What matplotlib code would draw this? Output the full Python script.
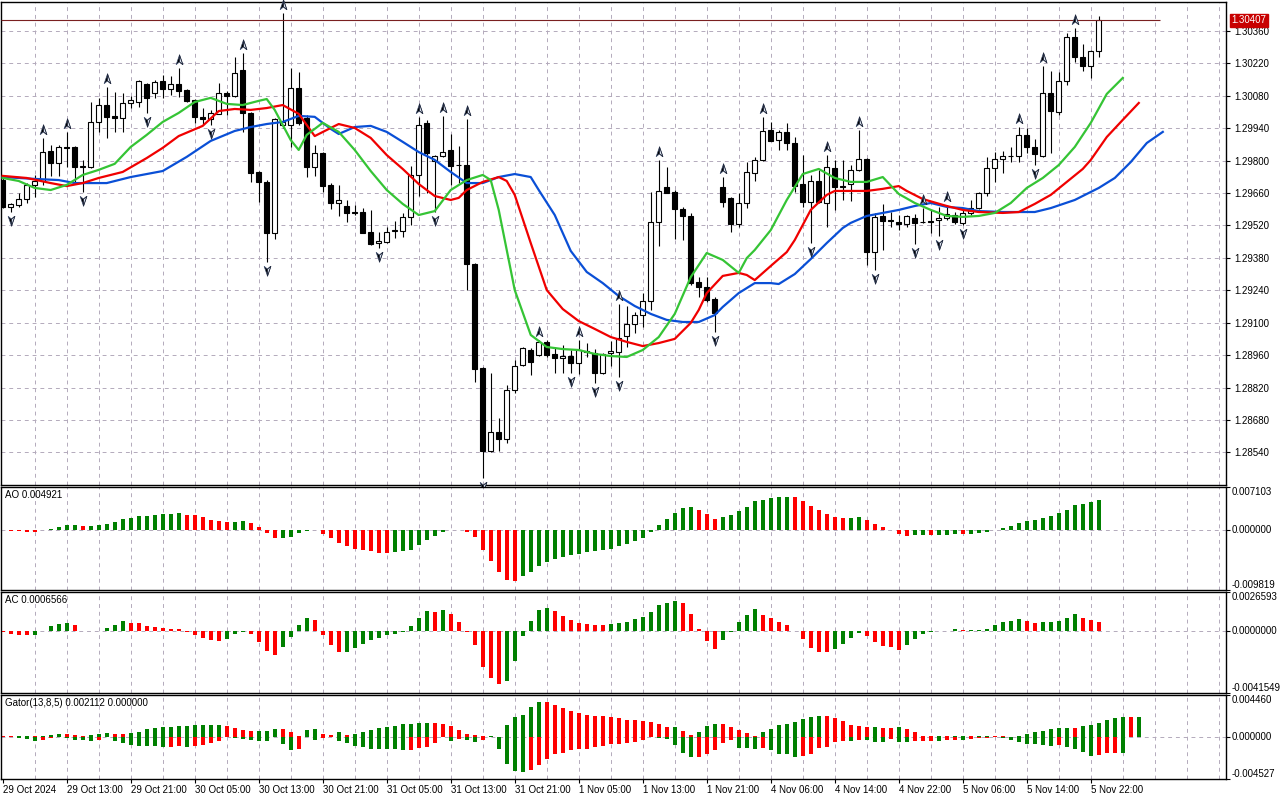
import numpy as np
import matplotlib
matplotlib.use('Agg')
from matplotlib import pyplot as plt
from matplotlib.path import Path
from matplotlib import transforms

plt.rcParams['font.family'] = ['Liberation Sans', 'DejaVu Sans']
plt.rcParams['font.size'] = 7

# ---- GBPUSD H1 candles (29 Oct 05:00 .. 5 Nov 23:00)
open_ = [1.29716, 1.29600, 1.29608, 1.29634, 1.29695, 1.29712, 1.29842, 1.29790, 1.29859, 1.29859,
         1.29773, 1.29773, 1.29967, 1.30040, 1.29993, 1.29984, 1.30049, 1.30053, 1.30131, 1.30092,
         1.30144, 1.30110, 1.30131, 1.30105, 1.30062, 1.29989, 1.29980, 1.30002, 1.30092, 1.30079,
         1.30192, 1.30006, 1.29751, 1.29708, 1.29487, 1.29954, 1.29954, 1.30114, 1.29984, 1.29773,
         1.29833, 1.29695, 1.29617, 1.29604, 1.29578, 1.29578, 1.29492, 1.29444, 1.29449, 1.29496,
         1.29496, 1.29557, 1.29738, 1.29963, 1.29798, 1.29820, 1.29846, 1.29781, 1.29781, 1.29353,
         1.28904, 1.28546, 1.28628, 1.28598, 1.28809, 1.28917, 1.28982, 1.28960, 1.29017, 1.28965,
         1.28947, 1.28956, 1.28926, 1.28978, 1.28969, 1.28883, 1.28969, 1.28973, 1.29042, 1.29094,
         1.29133, 1.29194, 1.29535, 1.29686, 1.29665, 1.29591, 1.29561, 1.29276, 1.29254, 1.29202,
         1.29686, 1.29639, 1.29526, 1.29617, 1.29747, 1.29803, 1.29932, 1.29889, 1.29924, 1.29876,
         1.29699, 1.29621, 1.29712, 1.29617, 1.29768, 1.29690, 1.29699, 1.29760, 1.29807, 1.29405,
         1.29561, 1.29544, 1.29535, 1.29526, 1.29552, 1.29535, 1.29539, 1.29544, 1.29552, 1.29565,
         1.29531, 1.29574, 1.29595, 1.29660, 1.29768, 1.29807, 1.29822, 1.29820, 1.29911, 1.29859,
         1.29820, 1.30092, 1.30010, 1.30144, 1.30334, 1.30248, 1.30209, 1.30274]
high = [1.29725, 1.29617, 1.29660, 1.29703, 1.29738, 1.29898, 1.29868, 1.29868, 1.29924, 1.29863,
        1.29803, 1.30053, 1.30071, 1.30118, 1.30097, 1.30092, 1.30079, 1.30148, 1.30135, 1.30148,
        1.30170, 1.30166, 1.30200, 1.30110, 1.30066, 1.30027, 1.30019, 1.30135, 1.30101, 1.30248,
        1.30265, 1.30010, 1.29755, 1.29716, 1.29984, 1.30438, 1.30200, 1.30183, 1.29997, 1.29868,
        1.29837, 1.29703, 1.29695, 1.29630, 1.29608, 1.29595, 1.29587, 1.29492, 1.29513, 1.29539,
        1.29574, 1.29777, 1.29989, 1.29976, 1.29824, 1.29993, 1.29915, 1.29863, 1.29980, 1.29357,
        1.28908, 1.28883, 1.28688, 1.28831, 1.28939, 1.28995, 1.28991, 1.29025, 1.29025, 1.28995,
        1.29004, 1.28982, 1.29025, 1.29012, 1.28986, 1.28969, 1.29021, 1.29181, 1.29172, 1.29146,
        1.29228, 1.29665, 1.29803, 1.29773, 1.29673, 1.29600, 1.29574, 1.29297, 1.29297, 1.29211,
        1.29729, 1.29643, 1.29660, 1.29794, 1.29816, 1.29989, 1.29967, 1.29932, 1.29963, 1.29902,
        1.29824, 1.29738, 1.29760, 1.29824, 1.29803, 1.29803, 1.29781, 1.29932, 1.29811, 1.29574,
        1.29613, 1.29578, 1.29565, 1.29565, 1.29570, 1.29596, 1.29587, 1.29600, 1.29608, 1.29578,
        1.29591, 1.29630, 1.29665, 1.29816, 1.29837, 1.29842, 1.29859, 1.29945, 1.29941, 1.29894,
        1.30209, 1.30187, 1.30183, 1.30351, 1.30373, 1.30304, 1.30278, 1.30425]
low = [1.29595, 1.29578, 1.29600, 1.29617, 1.29643, 1.29695, 1.29734, 1.29734, 1.29773, 1.29708,
       1.29665, 1.29768, 1.29924, 1.29898, 1.29924, 1.29924, 1.30027, 1.30032, 1.30006, 1.30071,
       1.30071, 1.30084, 1.30075, 1.30053, 1.29963, 1.29958, 1.29954, 1.30002, 1.29997, 1.30075,
       1.29924, 1.29708, 1.29621, 1.29362, 1.29462, 1.29941, 1.29859, 1.29954, 1.29729, 1.29734,
       1.29665, 1.29591, 1.29561, 1.29535, 1.29565, 1.29487, 1.29436, 1.29423, 1.29445, 1.29466,
       1.29470, 1.29522, 1.29647, 1.29660, 1.29578, 1.29816, 1.29695, 1.29703, 1.29241, 1.28844,
       1.28429, 1.28541, 1.28546, 1.28580, 1.28796, 1.28913, 1.28874, 1.28956, 1.28952, 1.28883,
       1.28883, 1.28883, 1.28878, 1.28952, 1.28839, 1.28878, 1.28913, 1.28865, 1.28995, 1.29055,
       1.29081, 1.29155, 1.29431, 1.29660, 1.29462, 1.29457, 1.29263, 1.29211, 1.29190, 1.29060,
       1.29600, 1.29492, 1.29513, 1.29595, 1.29712, 1.29798, 1.29885, 1.29846, 1.29846, 1.29665,
       1.29600, 1.29444, 1.29617, 1.29513, 1.29587, 1.29630, 1.29626, 1.29755, 1.29349, 1.29328,
       1.29414, 1.29513, 1.29500, 1.29513, 1.29440, 1.29531, 1.29487, 1.29474, 1.29544, 1.29526,
       1.29522, 1.29565, 1.29591, 1.29647, 1.29708, 1.29747, 1.29794, 1.29794, 1.29833, 1.29781,
       1.29816, 1.29833, 1.29997, 1.30127, 1.30226, 1.30187, 1.30157, 1.30248]
close = [1.29600, 1.29613, 1.29634, 1.29695, 1.29712, 1.29837, 1.29790, 1.29859, 1.29855, 1.29773,
         1.29777, 1.29967, 1.30040, 1.29989, 1.29984, 1.30049, 1.30062, 1.30144, 1.30071, 1.30140,
         1.30110, 1.30131, 1.30101, 1.30058, 1.29989, 1.29980, 1.30006, 1.30092, 1.30079, 1.30179,
         1.30006, 1.29747, 1.29708, 1.29487, 1.29980, 1.29967, 1.30114, 1.29963, 1.29773, 1.29833,
         1.29690, 1.29617, 1.29630, 1.29574, 1.29574, 1.29487, 1.29440, 1.29453, 1.29492, 1.29500,
         1.29557, 1.29738, 1.29954, 1.29833, 1.29820, 1.29837, 1.29777, 1.29779, 1.29353, 1.28900,
         1.28546, 1.28628, 1.28598, 1.28809, 1.28913, 1.28991, 1.28930, 1.29017, 1.28960, 1.28947,
         1.28956, 1.28926, 1.28982, 1.28973, 1.28883, 1.28965, 1.28978, 1.29034, 1.29094, 1.29133,
         1.29194, 1.29535, 1.29669, 1.29660, 1.29591, 1.29561, 1.29271, 1.29254, 1.29198, 1.29142,
         1.29621, 1.29526, 1.29617, 1.29751, 1.29803, 1.29928, 1.29885, 1.29924, 1.29876, 1.29690,
         1.29621, 1.29712, 1.29621, 1.29773, 1.29686, 1.29688, 1.29760, 1.29807, 1.29405, 1.29557,
         1.29539, 1.29539, 1.29526, 1.29561, 1.29531, 1.29533, 1.29537, 1.29552, 1.29570, 1.29535,
         1.29574, 1.29595, 1.29660, 1.29768, 1.29807, 1.29820, 1.29818, 1.29911, 1.29859, 1.29829,
         1.30092, 1.30014, 1.30144, 1.30334, 1.30248, 1.30209, 1.30274, 1.30407]

# fractal bars
fractal_up = [5, 8, 13, 22, 30, 35, 52, 55, 58, 67, 72, 77, 82, 90, 95, 103, 107, 115, 118, 127, 130, 134]
fractal_down = [1, 10, 18, 26, 33, 47, 54, 60, 71, 74, 77, 89, 101, 109, 114, 117, 120, 129]

# Alligator (already shifted: jaw 8, teeth 5, lips 3)
lips_bar = [0, 2, 4, 6, 8, 10, 12, 14, 16, 18, 20, 22, 24, 26, 28, 30, 32, 33, 34, 36, 37, 38, 40, 42, 44,
            46, 48, 50, 52, 54, 56, 58, 60, 61, 62, 64, 66, 68, 70, 72, 74, 76, 78, 80, 82, 84, 86, 88, 90,
            92, 93, 94, 96, 98, 100, 102, 104, 106, 108, 110, 112, 114, 116, 118, 120, 122, 124, 126, 128,
            130, 132, 134, 136, 138, 140]
lips = [1.29725, 1.29712, 1.29682, 1.29673, 1.29695, 1.29738, 1.29760, 1.29786, 1.29859, 1.29911,
        1.29967, 1.30006, 1.30053, 1.30071, 1.30045, 1.30040, 1.30058, 1.30066, 1.30019, 1.29889,
        1.29846, 1.29911, 1.29963, 1.29924, 1.29846, 1.29755, 1.29673, 1.29613, 1.29565, 1.29582,
        1.29673, 1.29716, 1.29738, 1.29716, 1.29587, 1.29241, 1.29047, 1.28995, 1.28986, 1.28982,
        1.28965, 1.28956, 1.28952, 1.28982, 1.29038, 1.29138, 1.29297, 1.29401, 1.29371, 1.29315,
        1.29379, 1.29414, 1.29500, 1.29630, 1.29742, 1.29764, 1.29725, 1.29708, 1.29708, 1.29729,
        1.29656, 1.29617, 1.29587, 1.29561, 1.29557, 1.29561, 1.29574, 1.29617, 1.29682, 1.29725,
        1.29781, 1.29859, 1.29963, 1.30088, 1.30157]
teeth_bar = [0, 3, 6, 8, 10, 12, 15, 18, 20, 22, 25, 27, 29, 31, 33, 35, 37, 39, 41, 42, 44, 46, 48, 50,
             52, 54, 56, 57, 58, 60, 62, 63, 64, 66, 68, 70, 72, 74, 76, 78, 80, 82, 84, 86, 87, 88, 90,
             92, 93, 94, 96, 98, 99, 101, 103, 104, 106, 108, 110, 112, 113, 115, 118, 120, 122, 125, 127,
             129, 131, 133, 135, 136, 138, 140, 142]
teeth = [1.29734, 1.29725, 1.29703, 1.29690, 1.29703, 1.29725, 1.29751, 1.29811, 1.29855, 1.29906,
         1.29950, 1.30014, 1.30023, 1.30019, 1.30027, 1.30040, 1.30002, 1.29906, 1.29941, 1.29958,
         1.29941, 1.29898, 1.29824, 1.29764, 1.29699, 1.29647, 1.29630, 1.29639, 1.29673, 1.29708,
         1.29729, 1.29712, 1.29652, 1.29444, 1.29241, 1.29159, 1.29107, 1.29073, 1.29038, 1.29017,
         1.28999, 1.29012, 1.29030, 1.29099, 1.29155, 1.29228, 1.29302, 1.29315, 1.29306, 1.29284,
         1.29345, 1.29405, 1.29457, 1.29587, 1.29652, 1.29669, 1.29669, 1.29669, 1.29678, 1.29690,
         1.29669, 1.29634, 1.29604, 1.29587, 1.29578, 1.29574, 1.29578, 1.29613, 1.29652, 1.29708,
         1.29764, 1.29803, 1.29902, 1.29976, 1.30049]
jaw_bar = [0, 4, 7, 9, 13, 16, 20, 23, 26, 29, 31, 33, 35, 37, 39, 41, 42, 44, 46, 48, 50, 52, 54, 56, 58,
           60, 62, 64, 66, 67, 69, 71, 73, 75, 77, 79, 81, 83, 85, 87, 89, 90, 92, 94, 96, 97, 99, 101,
           103, 105, 106, 108, 110, 112, 114, 116, 118, 120, 122, 125, 129, 131, 134, 137, 139, 141, 143, 145]
jaw = [1.29729, 1.29721, 1.29716, 1.29703, 1.29703, 1.29729, 1.29755, 1.29816, 1.29885, 1.29928,
       1.29945, 1.29958, 1.29967, 1.29993, 1.29989, 1.29937, 1.29915, 1.29945, 1.29950, 1.29924,
       1.29881, 1.29837, 1.29803, 1.29751, 1.29703, 1.29703, 1.29729, 1.29742, 1.29729, 1.29673,
       1.29565, 1.29410, 1.29319, 1.29271, 1.29215, 1.29172, 1.29138, 1.29112, 1.29103, 1.29103,
       1.29133, 1.29168, 1.29228, 1.29271, 1.29271, 1.29267, 1.29310, 1.29375, 1.29444, 1.29509,
       1.29531, 1.29561, 1.29574, 1.29587, 1.29604, 1.29617, 1.29600, 1.29595, 1.29582, 1.29578,
       1.29578, 1.29595, 1.29630, 1.29682, 1.29725, 1.29794, 1.29876, 1.29924]

ao = [-0.00003, -0.00011, -0.00011, -0.00022, -0.00027, 0.00011, 0.00016, 0.00055, 0.00082, 0.00088,
      0.00066, 0.00068, 0.00082, 0.00099, 0.00137, 0.00186, 0.00203, 0.00230, 0.00232, 0.00247,
      0.00263, 0.00265, 0.00279, 0.00258, 0.00247, 0.00214, 0.00170, 0.00148, 0.00132, 0.00134,
      0.00148, 0.00126, 0.00049, -0.00038, -0.00126, -0.00124, -0.00110, -0.00038, -0.00005, 0.00010,
      -0.00066, -0.00126, -0.00208, -0.00263, -0.00307, -0.00323, -0.00340, -0.00373, -0.00378, -0.00356,
      -0.00340, -0.00329, -0.00247, -0.00164, -0.00093, -0.00027, 0.00012, 0.00008, -0.00022, -0.00110,
      -0.00329, -0.00510, -0.00685, -0.00822, -0.00838, -0.00751, -0.00690, -0.00586, -0.00526, -0.00471,
      -0.00438, -0.00411, -0.00395, -0.00356, -0.00340, -0.00323, -0.00301, -0.00263, -0.00230, -0.00175,
      -0.00126, -0.00027, 0.00082, 0.00181, 0.00279, 0.00362, 0.00378, 0.00329, 0.00263, 0.00181,
      0.00214, 0.00247, 0.00312, 0.00378, 0.00477, 0.00493, 0.00526, 0.00543, 0.00553, 0.00543,
      0.00482, 0.00395, 0.00329, 0.00263, 0.00219, 0.00197, 0.00199, 0.00214, 0.00164, 0.00110,
      0.00049, 0.00005, -0.00055, -0.00093, -0.00077, -0.00076, -0.00078, -0.00077, -0.00076, -0.00060,
      -0.00062, -0.00060, -0.00044, -0.00027, 0.00003, 0.00033, 0.00077, 0.00115, 0.00148, 0.00170,
      0.00197, 0.00230, 0.00279, 0.00329, 0.00411, 0.00427, 0.00460, 0.004921]
ac = [-0.00005, -0.00020, -0.00023, -0.00024, -0.00022, 0.00005, 0.00034, 0.00050, 0.00056, 0.00041,
      0.00005, 0.00002, 0.00005, 0.00020, 0.00041, 0.00068, 0.00056, 0.00055, 0.00034, 0.00027,
      0.00026, 0.00018, 0.00014, -0.00005, -0.00025, -0.00047, -0.00061, -0.00068, -0.00054, -0.00018,
      -0.00005, -0.00020, -0.00072, -0.00135, -0.00162, -0.00108, -0.00041, 0.00041, 0.00092, 0.00074,
      -0.00023, -0.00095, -0.00140, -0.00138, -0.00115, -0.00086, -0.00061, -0.00045, -0.00022, -0.00018,
      -0.00001, 0.00034, 0.00090, 0.00135, 0.00128, 0.00142, 0.00115, 0.00063, -0.00001, -0.00095,
      -0.00241, -0.00315, -0.00356, -0.00335, -0.00200, -0.00032, 0.00068, 0.00142, 0.00155, 0.00135,
      0.00101, 0.00074, 0.00056, 0.00047, 0.00041, 0.00040, 0.00050, 0.00056, 0.00063, 0.00081,
      0.00095, 0.00128, 0.00178, 0.00194, 0.00203, 0.00191, 0.00115, 0.00014, -0.00068, -0.00122,
      -0.00061, -0.00005, 0.00063, 0.00108, 0.00149, 0.00108, 0.00088, 0.00063, 0.00041, 0.00005,
      -0.00054, -0.00113, -0.00140, -0.00141, -0.00122, -0.00088, -0.00045, -0.00011, -0.00032, -0.00072,
      -0.00101, -0.00108, -0.00128, -0.00095, -0.00054, -0.00018, -0.00005, 0.00002, 0.00005, 0.00014,
      0.00007, 0.00009, 0.00011, 0.00014, 0.00041, 0.00063, 0.00068, 0.00081, 0.00068, 0.00056,
      0.00063, 0.00064, 0.00068, 0.00090, 0.00115, 0.00092, 0.00074, 0.0006566]
gator_up = [0.00003, 0.00002, 0.00011, 0.00012, 0.00010, 0.00011, 0.00018, 0.00032, 0.00031, 0.00018,
            0.00011, 0.00018, 0.00032, 0.00043, 0.00032, 0.00031, 0.00043, 0.00054, 0.00079, 0.00093,
            0.00107, 0.00108, 0.00114, 0.00115, 0.00125, 0.00126, 0.00127, 0.00128, 0.00118, 0.00089,
            0.00068, 0.00061, 0.00062, 0.00063, 0.00079, 0.00078, 0.00046, 0.00002, 0.00068, 0.00082,
            0.00029, 0.00018, 0.00046, 0.00018, 0.00029, 0.00054, 0.00068, 0.00089, 0.00104, 0.00118,
            0.00132, 0.00135, 0.00146, 0.00147, 0.00146, 0.00135, 0.00114, 0.00071, 0.00032, 0.00018,
            0.00007, 0.00008, 0.00001, 0.00125, 0.00207, 0.00232, 0.00318, 0.00371, 0.00370, 0.00339,
            0.00303, 0.00275, 0.00253, 0.00232, 0.00221, 0.00220, 0.00211, 0.00196, 0.00179, 0.00178,
            0.00168, 0.00154, 0.00136, 0.00100, 0.00104, 0.00061, 0.00018, 0.00050, 0.00118, 0.00136,
            0.00135, 0.00100, 0.00071, 0.00039, 0.00011, 0.00046, 0.00082, 0.00129, 0.00136, 0.00157,
            0.00189, 0.00211, 0.00225, 0.00222, 0.00203, 0.00168, 0.00125, 0.00114, 0.00104, 0.00105,
            0.00093, 0.00092, 0.00104, 0.00079, 0.00050, 0.00011, 0.00010, 0.00011, 0.00010, 0.00011,
            0.00012, 0.00004, 0.00007, 0.00008, 0.00006, 0.00002, 0.00001, 0.00011, 0.00029, 0.00050,
            0.00061, 0.00082, 0.00093, 0.00094, 0.00093, 0.00118, 0.00129, 0.00146, 0.00179, 0.00200,
            0.00214, 0.00210, 0.002112]
gator_down = [0.00001, 0.00003, 0.00018, 0.00025, 0.00043, 0.00036, 0.00018, 0.00007, 0.00018, 0.00032,
              0.00033, 0.00043, 0.00036, 0.00007, 0.00046, 0.00068, 0.00089, 0.00096, 0.00097, 0.00098,
              0.00107, 0.00106, 0.00100, 0.00107, 0.00100, 0.00093, 0.00071, 0.00043, 0.00007, 0.00018,
              0.00025, 0.00032, 0.00046, 0.00047, 0.00007, 0.00075, 0.00143, 0.00132, 0.00001, 0.00036,
              0.00018, 0.00007, 0.00046, 0.00064, 0.00100, 0.00107, 0.00132, 0.00133, 0.00136, 0.00137,
              0.00145, 0.00143, 0.00118, 0.00107, 0.00064, 0.00007, 0.00043, 0.00025, 0.00036, 0.00054,
              0.00036, 0.00007, 0.00132, 0.00296, 0.00368, 0.00375, 0.00357, 0.00303, 0.00239, 0.00189,
              0.00171, 0.00143, 0.00132, 0.00131, 0.00114, 0.00100, 0.00075, 0.00074, 0.00064, 0.00057,
              0.00036, 0.00007, 0.00018, 0.00025, 0.00089, 0.00171, 0.00214, 0.00213, 0.00182, 0.00143,
              0.00071, 0.00036, 0.00125, 0.00126, 0.00127, 0.00126, 0.00143, 0.00182, 0.00189, 0.00214,
              0.00203, 0.00182, 0.00125, 0.00107, 0.00054, 0.00043, 0.00044, 0.00036, 0.00037, 0.00054,
              0.00055, 0.00025, 0.00054, 0.00055, 0.00043, 0.00042, 0.00041, 0.00043, 0.00032, 0.00031,
              0.00032, 0.00025, 0.00014, 0.00011, 0.00007, 0.00014, 0.00032, 0.00054, 0.00079, 0.00080,
              0.00086, 0.00100, 0.00089, 0.00111, 0.00132, 0.00161, 0.00203, 0.00196, 0.00175, 0.00171,
              0.00172]

time_labels = ["29 Oct 2024", "29 Oct 13:00", "29 Oct 21:00", "30 Oct 05:00", "30 Oct 13:00",
               "30 Oct 21:00", "31 Oct 05:00", "31 Oct 13:00", "31 Oct 21:00", "1 Nov 05:00",
               "1 Nov 13:00", "1 Nov 21:00", "4 Nov 06:00", "4 Nov 14:00", "4 Nov 22:00",
               "5 Nov 06:00", "5 Nov 14:00", "5 Nov 22:00"]
price_levels = [1.28540, 1.28680, 1.28820, 1.28960, 1.29100, 1.29240, 1.29380, 1.29520,
                1.29660, 1.29800, 1.29940, 1.30080, 1.30220, 1.30360]
ao_range = (-0.009819, 0.007103)
ac_range = (-0.0041549, 0.0026593)
gator_range = (-0.004527, 0.004460)

GRID = '#b3aabb'
GREEN = '#008000'
RED = '#ff0000'
W, H = 1280, 800
XLIM = (-0.21, 152.9)

fig = plt.figure(figsize=(W / 100, H / 100), dpi=100)


def panel(top, bottom, left=1, right=1226):
    ax = fig.add_axes([left / W, 1 - bottom / H, (right - left) / W, (bottom - top) / H])
    ax.set_xlim(*XLIM)
    for s in ax.spines.values():
        s.set_color('black')
        s.set_linewidth(1.0)
    for x in range(4, 153, 4):
        ax.axvline(x, color=GRID, lw=0.7, ls=(0, (4, 4)), zorder=0)
    ax.yaxis.tick_right()
    ax.tick_params(axis='y', direction='out', length=3, width=0.8, pad=3, labelsize=7)
    ax.tick_params(axis='x', bottom=False, labelbottom=False)
    return ax


def trend_colors(v):
    cols = [RED]
    for i in range(1, len(v)):
        cols.append(GREEN if v[i] > v[i - 1] else RED)
    return cols


# ---------------- main chart
ax = panel(2, 485)
o, h, l, c = map(np.array, (open_, high, low, close))
idx = np.arange(len(c))
ax.set_ylim(1.28399, 1.30485)
for p in price_levels:
    ax.axhline(p, color=GRID, lw=0.7, ls=(0, (4, 4)), zorder=0)
ax.set_yticks(price_levels)
ax.set_yticklabels([f"{p:.5f}" for p in price_levels])

ax.vlines(idx, l, h, color='black', lw=0.8, zorder=2)
bull = c >= o
ax.bar(idx, np.maximum(np.abs(c - o), 0.000005), bottom=np.minimum(o, c), width=0.62,
       color=np.where(bull, 'white', 'black'), edgecolor='black', linewidth=0.8, zorder=3)

ax.plot(jaw_bar, jaw, color='#0a4fd6', lw=1.6, zorder=4)
ax.plot(teeth_bar, teeth, color='#f00000', lw=1.6, zorder=4)
ax.plot(lips_bar, lips, color='#35c435', lw=1.6, zorder=4)

# fractal arrows: black left half, pale right half
C4 = [Path.MOVETO, Path.LINETO, Path.LINETO, Path.LINETO, Path.CLOSEPOLY]
C3 = [Path.MOVETO, Path.LINETO, Path.LINETO, Path.CLOSEPOLY]
up_full = Path([(0, 1), (0.6, -0.75), (0, -0.25), (-0.6, -0.75), (0, 1)], C4)
up_half = Path([(0, 1), (0.6, -0.75), (0, -0.25), (0, 1)], C3)
dn_full = Path([(0, -1), (0.6, 0.75), (0, 0.25), (-0.6, 0.75), (0, -1)], C4)
dn_half = Path([(0, -1), (0.6, 0.75), (0, 0.25), (0, -1)], C3)
t_up = transforms.offset_copy(ax.transData, fig=fig, x=0, y=6, units='points')
t_dn = transforms.offset_copy(ax.transData, fig=fig, x=0, y=-6, units='points')
for bars, ys, tr, full, half in ((fractal_up, h, t_up, up_full, up_half),
                                 (fractal_down, l, t_dn, dn_full, dn_half)):
    ax.plot(bars, ys[bars], ls='none', marker=full, ms=8, color='black', mec='#3a4a6a',
            mew=0.5, transform=tr, zorder=5, clip_on=False)
    ax.plot(bars, ys[bars], ls='none', marker=half, ms=8, mfc='#dfe6f2', mec='#1c2438',
            mew=0.6, transform=tr, zorder=6, clip_on=False)

ax.hlines(c[-1], XLIM[0], len(c) + 6.7, color='#7a2020', lw=0.8, zorder=4)
ax.annotate(f"{c[-1]:.5f}", xy=(1, c[-1]), xycoords=('axes fraction', 'data'),
            xytext=(4, 0), textcoords='offset points', ha='left', va='center',
            color='white', fontsize=7,
            bbox=dict(boxstyle='square,pad=0.15', fc='#c80000', ec='#c80000'),
            annotation_clip=False)


def sub_labels(ax, rng, fmt, title):
    lo, hi = rng
    ax.set_ylim(lo, hi)
    ax.axhline(0, color=GRID, lw=0.7, ls=(0, (4, 4)), zorder=0)
    ax.set_yticks([lo, 0, hi])
    ax.set_yticklabels([])
    tr = transforms.blended_transform_factory(ax.transAxes, ax.transData)
    for val, va in ((hi, 'top'), (0, 'center'), (lo, 'bottom')):
        ax.annotate(fmt.format(0.0 if val == 0 else val), xy=(1, val), xycoords=tr,
                    xytext=(4, 0), textcoords='offset points', ha='left', va=va,
                    fontsize=7, annotation_clip=False)
    ax.annotate(title, xy=(0, 1), xycoords='axes fraction', xytext=(3, -2),
                textcoords='offset points', ha='left', va='top', fontsize=7)


# ---------------- AO
ax_ao = panel(487, 590)
ax_ao.bar(np.arange(len(ao)), ao, width=0.5, color=trend_colors(ao), zorder=2)
sub_labels(ax_ao, ao_range, "{:.6f}", f"AO {ao[-1]:.6f}")

# ---------------- AC
ax_ac = panel(592, 693)
ax_ac.bar(np.arange(len(ac)), ac, width=0.5, color=trend_colors(ac), zorder=2)
sub_labels(ax_ac, ac_range, "{:.7f}", f"AC {ac[-1]:.7f}")

# ---------------- Gator
ax_g = panel(695, 779)
ax_g.bar(np.arange(len(gator_up)), gator_up, width=0.5, color=trend_colors(gator_up), zorder=2)
ax_g.bar(np.arange(len(gator_down)), -np.array(gator_down), width=0.5,
         color=trend_colors(gator_down), zorder=2)
sub_labels(ax_g, gator_range, "{:.6f}", f"Gator(13,8,5) {gator_up[-1]:.6f} 0.000000")

ax_g.set_xticks(range(0, 8 * len(time_labels), 8))
ax_g.set_xticklabels(time_labels, ha='left')
ax_g.tick_params(axis='x', bottom=True, labelbottom=True, direction='out', length=3,
                 width=0.8, pad=1, labelsize=7)

fig.savefig('out.png', dpi=100, facecolor='white')
